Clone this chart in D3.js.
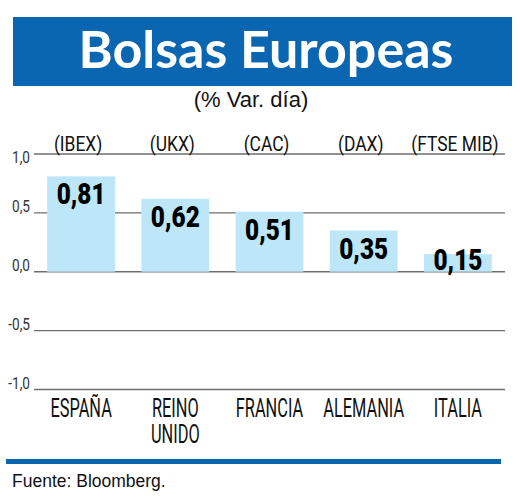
<!DOCTYPE html>
<html>
<head>
<meta charset="utf-8">
<script src="https://cdn.jsdelivr.net/npm/d3@7"></script>
<style>
  html, body { margin: 0; padding: 0; background: #fff; }
  svg { display: block; }
</style>
</head>
<body>
<div id="chart"></div>
<script>
const markets = ['ESPAÑA', 'REINO UNIDO', 'FRANCIA', 'ALEMANIA', 'ITALIA'];
const tickers = ['(IBEX)', '(UKX)', '(CAC)', '(DAX)', '(FTSE MIB)'];
const changes = [0.81, 0.62, 0.51, 0.35, 0.15];
const yTicks = [1.0, 0.5, 0.0, -0.5, -1.0];

const width = 520, height = 499;
const blue = '#0a66b0';

const locale = d3.formatLocale({ decimal: ',', thousands: '.', grouping: [3], currency: ['', ' €'], minus: '-' });
const fmtValue = locale.format('.2f');
const fmtTick = locale.format('.1f');

const svg = d3.select('#chart')
  .append('svg')
  .attr('width', width)
  .attr('height', height)
  .attr('viewBox', `0 0 ${width} ${height}`);

// title band
svg.append('rect')
  .attr('x', 13).attr('y', 17)
  .attr('width', 499).attr('height', 69)
  .attr('fill', blue);

svg.append('text')
  .attr('x', 266).attr('y', 68)
  .attr('text-anchor', 'middle')
  .attr('font-family', 'Lato, sans-serif')
  .attr('font-weight', 700)
  .attr('font-size', 52)
  .attr('fill', '#fff')
  .text('Bolsas Europeas');

svg.append('text')
  .attr('x', 251).attr('y', 107)
  .attr('text-anchor', 'middle')
  .attr('font-family', '"Liberation Sans", Arial, sans-serif')
  .attr('font-size', 22)
  .attr('fill', '#111')
  .text('(% Var. día)');

const x = d3.scaleBand()
  .domain(markets)
  .range([34, 505])
  .paddingInner(0.28)
  .paddingOuter(0.14);

const y = d3.scaleLinear()
  .domain([-1, 1])
  .range([389.5, 154]);

// horizontal grid
const grid = svg.append('g');
grid.selectAll('line')
  .data(yTicks)
  .join('line')
  .attr('x1', 34).attr('x2', 505)
  .attr('y1', d => y(d)).attr('y2', d => y(d))
  .attr('stroke', '#6e6e6e')
  .attr('stroke-width', 1.3);

grid.selectAll('text')
  .data(yTicks)
  .join('text')
  .attr('transform', d => `translate(30,${y(d) + (d === 1 ? 9 : -1)}) scale(0.8,1)`)
  .attr('text-anchor', 'end')
  .attr('font-family', 'Roboto, sans-serif')
  .attr('font-size', 17)
  .attr('fill', '#333')
  .text(d => fmtTick(d));

// bars
const bars = svg.append('g');
bars.selectAll('rect')
  .data(changes)
  .join('rect')
  .attr('x', (d, i) => x(markets[i]))
  .attr('y', d => y(d))
  .attr('width', x.bandwidth())
  .attr('height', d => y(0) - y(d))
  .attr('fill', '#bde6f9');

bars.selectAll('text')
  .data(changes)
  .join('text')
  .attr('transform', (d, i) => {
    const cx = x(markets[i]) + x.bandwidth() / 2;
    const ty = Math.min(y(d) + 28, y(0) - 2);
    return `translate(${cx},${ty}) scale(0.84,1)`;
  })
  .attr('text-anchor', 'middle')
  .attr('font-family', 'Roboto, sans-serif')
  .attr('font-weight', 900)
  .attr('font-size', 29)
  .attr('fill', '#000')
  .text(d => fmtValue(d));

// index names above
svg.append('g').selectAll('text')
  .data(tickers)
  .join('text')
  .attr('transform', (d, i) => `translate(${x(markets[i]) + x.bandwidth() / 2 - 3},151) scale(0.85,1)`)
  .attr('text-anchor', 'middle')
  .attr('font-family', 'Roboto, sans-serif')
  .attr('font-size', 20.5)
  .attr('fill', '#111')
  .text(d => d);

// country names below
const names = svg.append('g').selectAll('text')
  .data(markets)
  .join('text')
  .attr('transform', d => `translate(${x(d) + x.bandwidth() / 2},417) scale(0.63,1)`)
  .attr('text-anchor', 'middle')
  .attr('font-family', 'Roboto, sans-serif')
  .attr('font-size', 26)
  .attr('fill', '#111');

names.selectAll('tspan')
  .data(d => d.split(' '))
  .join('tspan')
  .attr('x', 0)
  .attr('dy', (d, i) => i === 0 ? 0 : 26)
  .text(d => d);

// footer
svg.append('rect')
  .attr('x', 6).attr('y', 459)
  .attr('width', 495).attr('height', 5)
  .attr('fill', blue);

svg.append('text')
  .attr('x', 12).attr('y', 487)
  .attr('font-family', '"Liberation Sans", Arial, sans-serif')
  .attr('font-size', 17.5)
  .attr('fill', '#111')
  .text('Fuente: Bloomberg.');
</script>
</body>
</html>
